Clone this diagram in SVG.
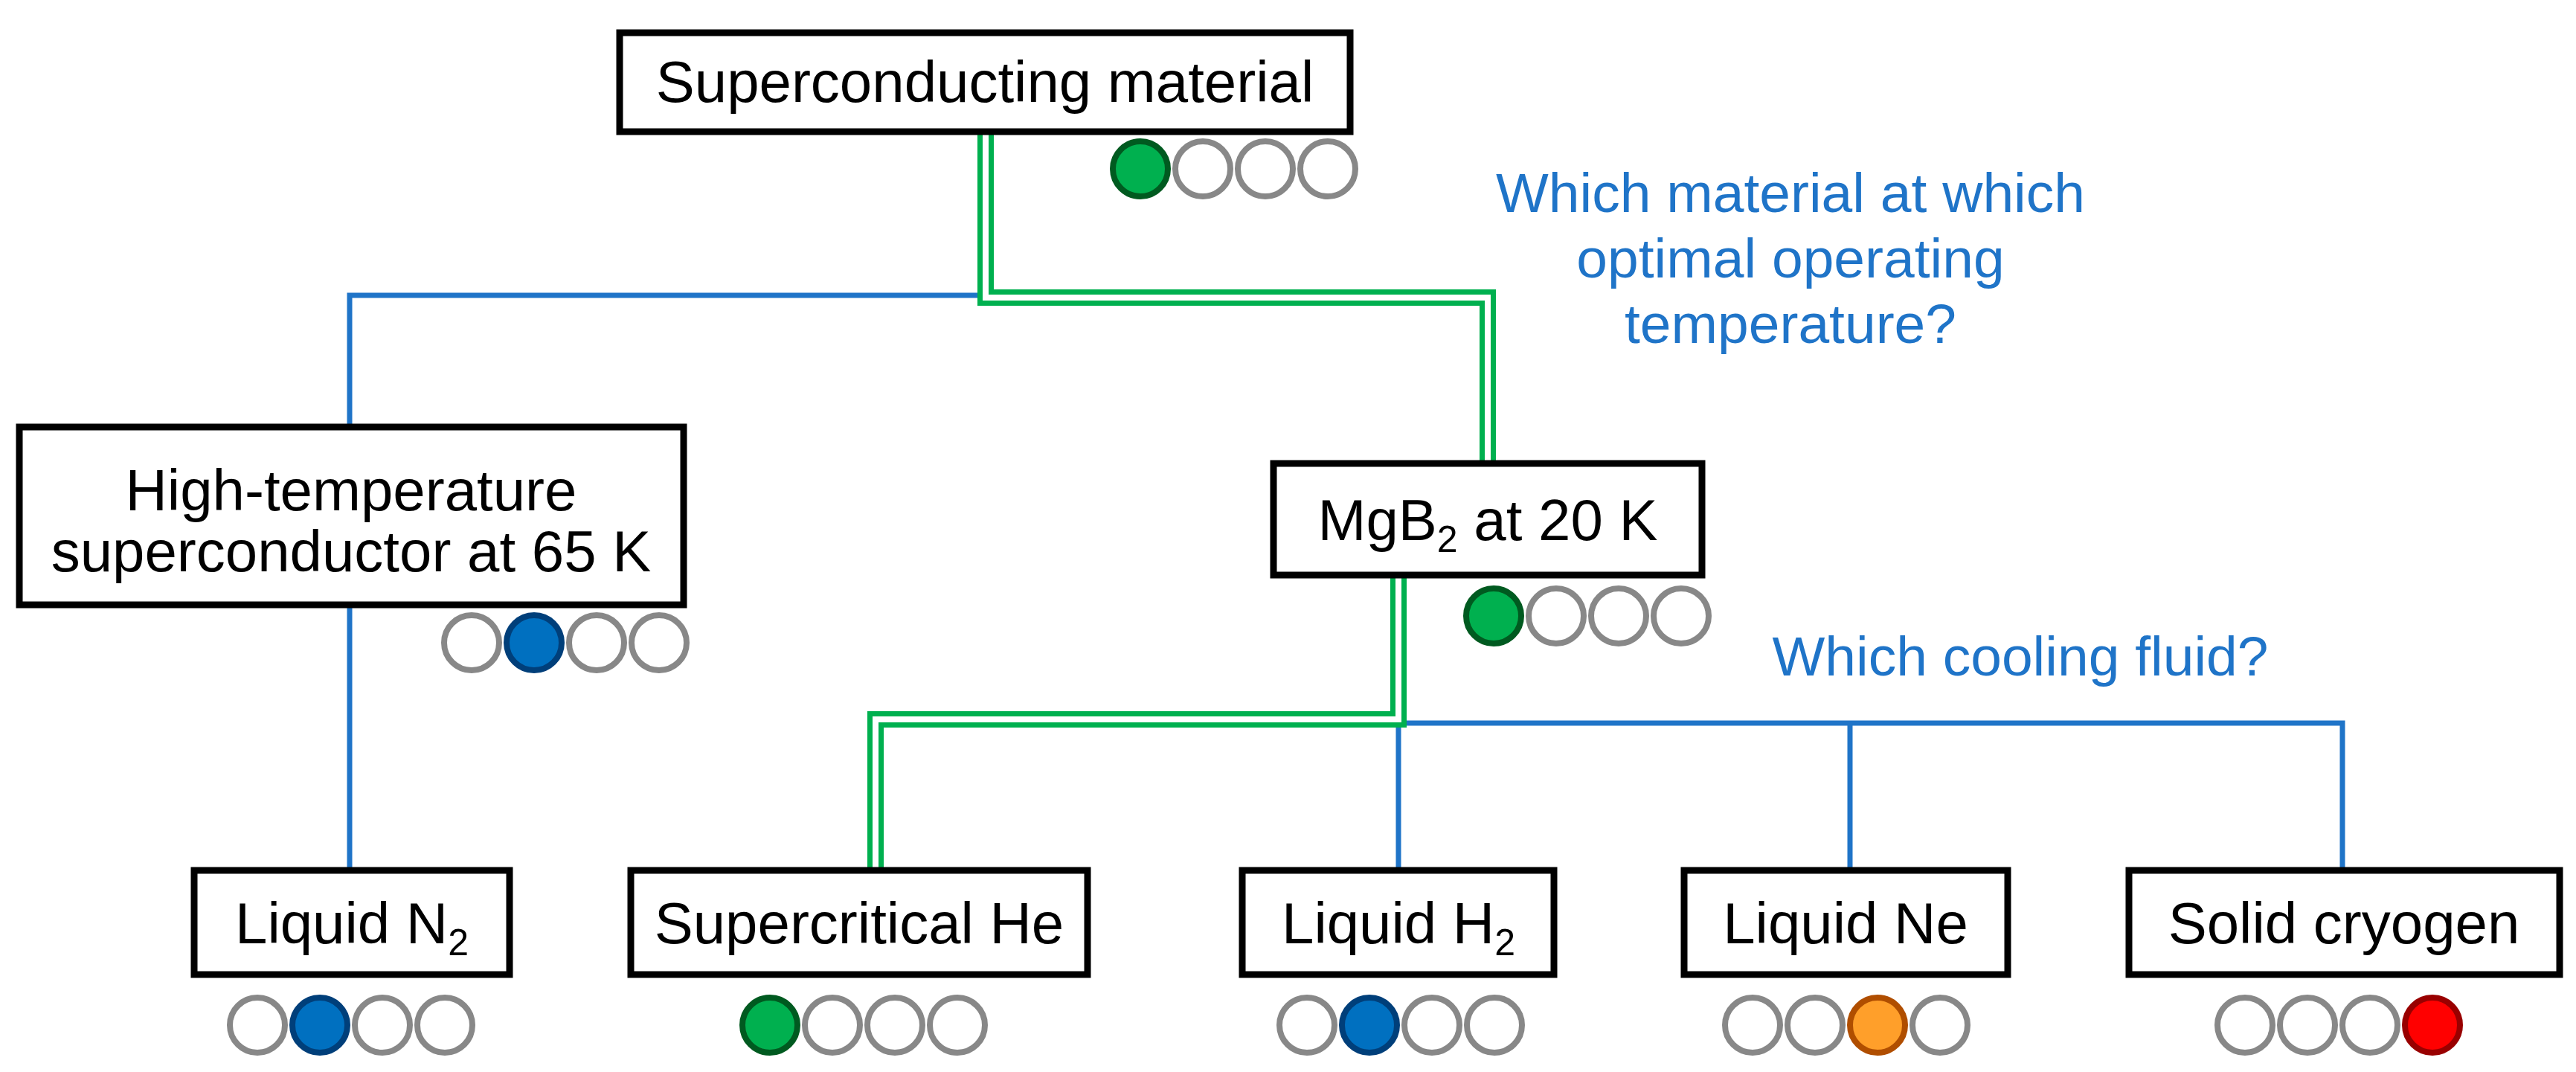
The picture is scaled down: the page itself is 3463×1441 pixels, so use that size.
<svg xmlns="http://www.w3.org/2000/svg" width="3463" height="1441" viewBox="0 0 3463 1441">
<style>
.box{fill:#fff;stroke:#000;stroke-width:9}
.t{font-family:"Liberation Sans",Arial,sans-serif;font-size:78px;fill:#000;text-anchor:middle}
.q{font-family:"Liberation Sans",Arial,sans-serif;font-size:75px;fill:#1F74C8;text-anchor:middle}
.sub{font-size:50px}
.blue{fill:none;stroke:#1F74C8;stroke-width:7}
.gO{fill:none;stroke:#00B04F;stroke-width:22}
.gI{fill:none;stroke:#fff;stroke-width:8}
.e{fill:#fff;stroke:#888;stroke-width:8}
.g{fill:#00B04F;stroke:#005A20;stroke-width:8}
.b{fill:#0070C0;stroke:#003F7A;stroke-width:8}
.o{fill:#FF9F2A;stroke:#B04E00;stroke-width:8}
.r{fill:#FF0000;stroke:#990000;stroke-width:8}
</style>
<g id="connectors">
<path class="blue" d="M1325 397 H470 V574"/>
<path class="blue" d="M470 813 V1170"/>
<path class="blue" d="M1880 972 H3149 V1170 M1880 972 V1170 M2487 972 V1170"/>
<path class="gO" d="M1325 177 V400 H2000 V623"/>
<path class="gI" d="M1325 177 V400 H2000 V623"/>
<path class="gO" d="M1880 773 V967 H1177 V1170"/>
<path class="gI" d="M1880 773 V967 H1177 V1170"/>
</g>
<g id="n-root">
<rect class="box" x="833" y="44" width="982" height="133"/>
<text class="t" x="1324" y="137">Superconducting material</text>
<circle class="g" cx="1533" cy="227" r="37"/><circle class="e" cx="1617" cy="227" r="37"/><circle class="e" cx="1701" cy="227" r="37"/><circle class="e" cx="1785" cy="227" r="37"/>
</g>
<g id="n-hts">
<rect class="box" x="26" y="574" width="893" height="239"/>
<text class="t" x="472" y="686">High-temperature</text>
<text class="t" x="472" y="768">superconductor at 65 K</text>
<circle class="e" cx="634" cy="864" r="37"/><circle class="b" cx="718" cy="864" r="37"/><circle class="e" cx="802" cy="864" r="37"/><circle class="e" cx="886" cy="864" r="37"/>
</g>
<g id="n-mgb2">
<rect class="box" x="1712" y="623" width="576" height="150"/>
<text class="t" x="2000" y="726">MgB<tspan class="sub" dy="16">2</tspan><tspan dy="-16"> at 20 K</tspan></text>
<circle class="g" cx="2008" cy="828" r="37"/><circle class="e" cx="2092" cy="828" r="37"/><circle class="e" cx="2176" cy="828" r="37"/><circle class="e" cx="2260" cy="828" r="37"/>
</g>
<g id="q1">
<text class="q" x="2407" y="285">Which material at which</text>
<text class="q" x="2407" y="373">optimal operating</text>
<text class="q" x="2407" y="461">temperature?</text>
</g>
<g id="q2"><text class="q" x="2716" y="908">Which cooling fluid?</text></g>
<g id="n-ln2">
<rect class="box" x="261" y="1170" width="424" height="140"/>
<text class="t" x="473" y="1268">Liquid N<tspan class="sub" dy="16">2</tspan></text>
<circle class="e" cx="346" cy="1378" r="37"/><circle class="b" cx="430" cy="1378" r="37"/><circle class="e" cx="514" cy="1378" r="37"/><circle class="e" cx="598" cy="1378" r="37"/>
</g>
<g id="n-she">
<rect class="box" x="848" y="1170" width="614" height="140"/>
<text class="t" x="1155" y="1268">Supercritical He</text>
<circle class="g" cx="1035" cy="1378" r="37"/><circle class="e" cx="1119" cy="1378" r="37"/><circle class="e" cx="1203" cy="1378" r="37"/><circle class="e" cx="1287" cy="1378" r="37"/>
</g>
<g id="n-lh2">
<rect class="box" x="1670" y="1170" width="419" height="140"/>
<text class="t" x="1880" y="1268">Liquid H<tspan class="sub" dy="16">2</tspan></text>
<circle class="e" cx="1757" cy="1378" r="37"/><circle class="b" cx="1841" cy="1378" r="37"/><circle class="e" cx="1925" cy="1378" r="37"/><circle class="e" cx="2009" cy="1378" r="37"/>
</g>
<g id="n-lne">
<rect class="box" x="2264" y="1170" width="435" height="140"/>
<text class="t" x="2481" y="1268">Liquid Ne</text>
<circle class="e" cx="2356" cy="1378" r="37"/><circle class="e" cx="2440" cy="1378" r="37"/><circle class="o" cx="2524" cy="1378" r="37"/><circle class="e" cx="2608" cy="1378" r="37"/>
</g>
<g id="n-solid">
<rect class="box" x="2862" y="1170" width="579" height="140"/>
<text class="t" x="3151" y="1268">Solid cryogen</text>
<circle class="e" cx="3018" cy="1378" r="37"/><circle class="e" cx="3102" cy="1378" r="37"/><circle class="e" cx="3186" cy="1378" r="37"/><circle class="r" cx="3270" cy="1378" r="37"/>
</g>
</svg>
